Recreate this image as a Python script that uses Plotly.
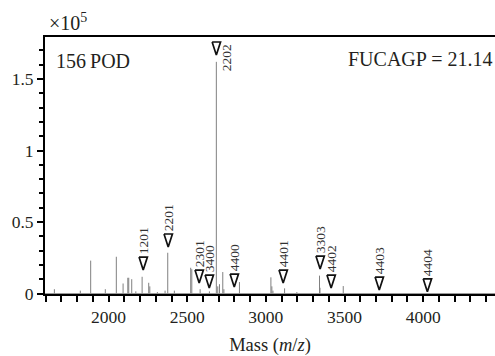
import plotly.graph_objects as go

# ---- data (intensity in units of 1e5) ----
peak_mz = [1655, 1820, 1886, 1979, 2049, 2092, 2122, 2128, 2147, 2173, 2213, 2255, 2262,
           2310, 2359, 2376, 2418, 2522, 2529, 2582, 2641, 2685, 2694, 2705, 2726, 2733,
           2832, 3032, 3038, 3045, 3119, 3197, 3341, 3344, 3492]
peak_int = [0.03, 0.02, 0.23, 0.03, 0.257, 0.07, 0.11, 0.11, 0.10, 0.015, 0.117, 0.075, 0.05,
            0.01, 0.02, 0.285, 0.02, 0.18, 0.17, 0.03, 0.015, 1.62, 0.05, 0.065, 0.15, 0.03,
            0.08, 0.113, 0.05, 0.02, 0.036, 0.01, 0.125, 0.04, 0.052]
baseline_mz = [1595, 4460]
baseline_int = [0.0, 0.0]

marker_labels = ["1201", "2201", "2301", "3400", "4400", "2202", "4401", "3303", "4402", "4403", "4404"]
marker_mz = [2220, 2379, 2576, 2640, 2799, 2685, 3110, 3345, 3415, 3721, 4027]
marker_tip = [0.164, 0.325, 0.073, 0.038, 0.045, 1.668, 0.073, 0.171, 0.038, 0.024, 0.012]

x_ticks = [2000, 2500, 3000, 3500, 4000]
y_ticks = [0, 0.5, 1, 1.5]
y_ticktext = ["0", "0.5", "1", "1.5"]

X_RANGE = [1595.5, 4457]
Y_RANGE = [-0.0035, 1.7937]

# style constants
FONT = "Liberation Serif"
TXT = "#231f20"
W, H = 495, 356
ML, MR, MT, MB = 45, 0, 37, 62
px_x = (X_RANGE[1] - X_RANGE[0]) / (W - ML - MR)   # data units per pixel
px_y = (Y_RANGE[1] - Y_RANGE[0]) / (H - MT - MB)
TRI_HALF_W = 4.2 * px_x
TRI_H = 13.0 * px_y

# stick spectrum built from arrays
sx, sy = [], []
for m, v in zip(peak_mz, peak_int):
    sx += [m, m, None]
    sy += [0, v, None]

# open triangles built from marker arrays
tx, ty = [], []
for m, t in zip(marker_mz, marker_tip):
    tx += [m - TRI_HALF_W, m + TRI_HALF_W, m, m - TRI_HALF_W, None]
    ty += [t + TRI_H, t + TRI_H, t, t + TRI_H, None]

fig = go.Figure()
fig.add_trace(go.Scatter(x=baseline_mz, y=baseline_int, mode="lines",
                         line=dict(color="#9a9a9a", width=1), hoverinfo="skip", showlegend=False))
fig.add_trace(go.Scatter(x=sx, y=sy, mode="lines",
                         line=dict(color="#808080", width=1), hoverinfo="skip", showlegend=False))
fig.add_trace(go.Scatter(x=tx, y=ty, mode="lines",
                         line=dict(color="#111111", width=1.7), hoverinfo="skip", showlegend=False))

for lab, m, t in zip(marker_labels, marker_mz, marker_tip):
    if lab == "2202":
        fig.add_annotation(x=m, y=t, xref="x", yref="y", text=lab, showarrow=False,
                           textangle=-90, xanchor="center", yanchor="middle",
                           xshift=11, yshift=-3,
                           font=dict(family=FONT, size=13.5, color="#333333"))
    else:
        fig.add_annotation(x=m, y=t, xref="x", yref="y", text=lab, showarrow=False,
                           textangle=-90, xanchor="center", yanchor="bottom",
                           yshift=13.5,
                           font=dict(family=FONT, size=13.5, color="#333333"))

fig.add_annotation(x=0.02, y=0.905, xref="paper", yref="paper", text="156\u2009POD",
                   showarrow=False, xanchor="left", yanchor="middle",
                   font=dict(family=FONT, size=20, color=TXT))
fig.add_annotation(x=0.998, y=0.913, xref="paper", yref="paper", text="FUCAGP = 21.14",
                   showarrow=False, xanchor="right", yanchor="middle",
                   font=dict(family=FONT, size=20, color=TXT))
fig.add_annotation(x=0.005, y=1.0, xref="paper", yref="paper", text="\u00d710<sup>5</sup>",
                   showarrow=False, xanchor="left", yanchor="bottom", yshift=1,
                   font=dict(family=FONT, size=20, color=TXT))

fig.update_layout(
    width=W, height=H,
    margin=dict(l=ML, r=MR, t=MT, b=MB, pad=0, autoexpand=False),
    paper_bgcolor="white", plot_bgcolor="white",
    font=dict(family=FONT, color=TXT),
    showlegend=False,
    xaxis=dict(range=X_RANGE, tickvals=x_ticks, ticks="outside", ticklen=6, tickwidth=2,
               tickcolor="black", showline=True, linecolor="black", linewidth=2,
               mirror=True, showgrid=False, zeroline=False, automargin=False,
               tickfont=dict(family=FONT, size=17.5, color=TXT),
               minor=dict(dtick=100, tick0=1600, ticks="outside", ticklen=6, tickwidth=2,
                          tickcolor="black", showgrid=False),
               title=dict(text="Mass (<i>m</i>/<i>z</i>)", standoff=12,
                          font=dict(family=FONT, size=18.5, color=TXT))),
    yaxis=dict(range=Y_RANGE, tickvals=y_ticks, ticktext=y_ticktext, ticks="outside",
               ticklen=6, tickwidth=2, tickcolor="black", showline=True, linecolor="black",
               linewidth=2, mirror=False, showgrid=False, zeroline=False, automargin=False,
               tickfont=dict(family=FONT, size=17.5, color=TXT),
               minor=dict(dtick=0.1, tick0=0, ticks="outside", ticklen=4, tickwidth=2,
                          tickcolor="black", showgrid=False)),
)

fig.write_html("out.html", config={"displayModeBar": False},
               post_script="document.body.style.margin='0';document.body.style.overflow='hidden';")
